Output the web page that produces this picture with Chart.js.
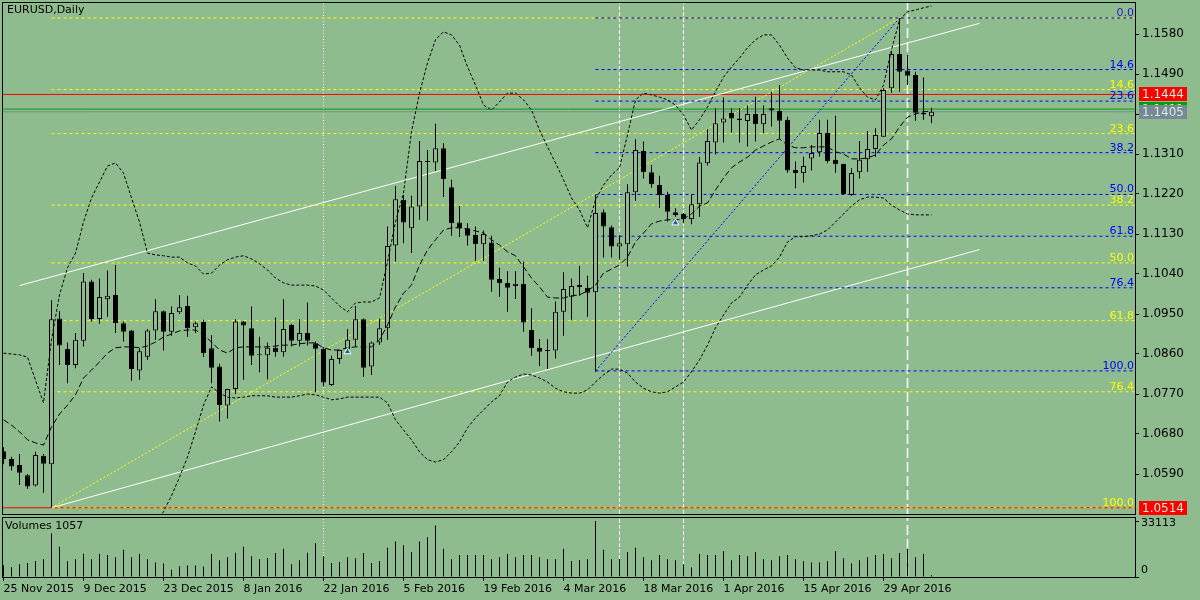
<!DOCTYPE html>
<html>
<head>
<meta charset="utf-8">
<script src="https://cdn.jsdelivr.net/npm/chart.js@4.4.1/dist/chart.umd.min.js"></script>
<style>
  html, body { margin: 0; padding: 0; background: #8fbc8f; }
  #wrap { position: relative; width: 1200px; height: 600px; overflow: hidden; }
  canvas { position: absolute; left: 0; }
  #main { top: 0; }
  #vol { top: 516px; }
</style>
</head>
<body>
<div id="wrap">
  <canvas id="main" width="1200" height="516"></canvas>
  <canvas id="vol" width="1200" height="84"></canvas>
</div>
<script>
// EURUSD daily bars, 25 Nov 2015 .. 9 May 2016
const open = [
  1.0641, 1.0624, 1.0610, 1.0587, 1.0564, 1.0631, 1.0612, 1.0940, 1.0871, 1.0835,
  1.0890, 1.1023, 1.0939, 1.0983, 1.0993, 1.0929, 1.0913, 1.0823, 1.0854, 1.0913,
  1.0956, 1.0910, 1.0954, 1.0968, 1.0920, 1.0932, 1.0873, 1.0832, 1.0744, 1.0781,
  1.0933, 1.0918, 1.0857, 1.0857, 1.0874, 1.0864, 1.0925, 1.0890, 1.0907, 1.0884,
  1.0872, 1.0790, 1.0849, 1.0871, 1.0892, 1.0938, 1.0832, 1.0886, 1.0918, 1.1104,
  1.1207, 1.1143, 1.1192, 1.1293, 1.1291, 1.1323, 1.1235, 1.1156, 1.1143, 1.1128,
  1.1107, 1.1111, 1.1029, 1.1020, 1.1013, 1.1018, 1.0914, 1.0874, 1.0868, 1.0868,
  1.0955, 1.0989, 1.1015, 1.1009, 1.0999, 1.1179, 1.1145, 1.1102, 1.1107, 1.1224,
  1.1317, 1.1269, 1.1240, 1.1218, 1.1179, 1.1175, 1.1164, 1.1197, 1.1289, 1.1336,
  1.1381, 1.1402, 1.1390, 1.1384, 1.1400, 1.1377, 1.1413, 1.1407, 1.1387, 1.1274,
  1.1267, 1.1300, 1.1314, 1.1357, 1.1297, 1.1288, 1.1218, 1.1269, 1.1298, 1.1321,
  1.1349, 1.1458, 1.1535, 1.1498, 1.1488, 1.1402, 1.1395
];
const high = [
  1.0650, 1.0629, 1.0635, 1.0590, 1.0640, 1.0635, 1.0981, 1.0957, 1.0886, 1.0907,
  1.1042, 1.1027, 1.1030, 1.1048, 1.1060, 1.0933, 1.0914, 1.0873, 1.0916, 1.0983,
  1.0958, 1.0967, 1.0993, 1.0991, 1.0933, 1.0937, 1.0903, 1.0838, 1.0782, 1.0938,
  1.0934, 1.0967, 1.0899, 1.0886, 1.0942, 1.0983, 1.0928, 1.0938, 1.0976, 1.0888,
  1.0875, 1.0856, 1.0869, 1.0916, 1.0968, 1.0940, 1.0888, 1.0940, 1.1147, 1.1238,
  1.1218, 1.1216, 1.1339, 1.1319, 1.1378, 1.1334, 1.1252, 1.1193, 1.1154, 1.1147,
  1.1138, 1.1126, 1.1054, 1.1047, 1.1047, 1.1068, 1.0963, 1.0894, 1.0893, 1.0978,
  1.1044, 1.1030, 1.1058, 1.1036, 1.1218, 1.1185, 1.1149, 1.1128, 1.1242, 1.1343,
  1.1338, 1.1285, 1.1261, 1.1225, 1.1188, 1.1177, 1.1219, 1.1303, 1.1366, 1.1413,
  1.1437, 1.1413, 1.1413, 1.1419, 1.1439, 1.1419, 1.1450, 1.1465, 1.1394, 1.1293,
  1.1304, 1.1330, 1.1387, 1.1387, 1.1396, 1.1288, 1.1278, 1.1339, 1.1362, 1.1368,
  1.1458, 1.1540, 1.1615, 1.1533, 1.1495, 1.1482, 1.1414
];
const low = [
  1.0612, 1.0598, 1.0565, 1.0556, 1.0562, 1.0548, 1.0514, 1.0835, 1.0794, 1.0828,
  1.0877, 1.0933, 1.0928, 1.0944, 1.0907, 1.0888, 1.0800, 1.0802, 1.0847, 1.0892,
  1.0868, 1.0901, 1.0950, 1.0898, 1.0907, 1.0853, 1.0794, 1.0708, 1.0715, 1.0770,
  1.0802, 1.0835, 1.0819, 1.0803, 1.0854, 1.0854, 1.0877, 1.0877, 1.0879, 1.0774,
  1.0787, 1.0788, 1.0838, 1.0868, 1.0877, 1.0809, 1.0813, 1.0880, 1.0892, 1.1068,
  1.1109, 1.1087, 1.1162, 1.1160, 1.1272, 1.1213, 1.1126, 1.1123, 1.1104, 1.1070,
  1.1070, 1.1000, 1.0989, 1.0955, 1.0984, 1.0910, 1.0856, 1.0833, 1.0826, 1.0850,
  1.0901, 1.0937, 1.0991, 1.0944, 1.0820, 1.1077, 1.1077, 1.1072, 1.1057, 1.1205,
  1.1255, 1.1234, 1.1189, 1.1158, 1.1169, 1.1154, 1.1152, 1.1168, 1.1284, 1.1309,
  1.1336, 1.1358, 1.1336, 1.1327, 1.1338, 1.1357, 1.1372, 1.1344, 1.1267, 1.1233,
  1.1246, 1.1273, 1.1304, 1.1289, 1.1268, 1.1218, 1.1216, 1.1255, 1.1270, 1.1304,
  1.1348, 1.1448, 1.1450, 1.1465, 1.1385, 1.1387, 1.1379
];
const close = [
  1.0623, 1.0607, 1.0593, 1.0562, 1.0633, 1.0613, 1.0938, 1.0879, 1.0835, 1.0892,
  1.1023, 1.0939, 1.0988, 1.0991, 1.0929, 1.0910, 1.0826, 1.0866, 1.0913, 1.0956,
  1.0910, 1.0952, 1.0965, 1.0918, 1.0929, 1.0862, 1.0829, 1.0745, 1.0781, 1.0933,
  1.0924, 1.0856, 1.0858, 1.0874, 1.0864, 1.0916, 1.0890, 1.0907, 1.0890, 1.0872,
  1.0796, 1.0849, 1.0869, 1.0892, 1.0938, 1.0829, 1.0886, 1.0918, 1.1103, 1.1208,
  1.1156, 1.1192, 1.1294, 1.1292, 1.1323, 1.1254, 1.1154, 1.1143, 1.1126, 1.1107,
  1.1130, 1.1027, 1.1019, 1.1009, 1.1018, 1.0931, 1.0873, 1.0865, 1.0867, 1.0955,
  1.1006, 1.1013, 1.1010, 1.0998, 1.1177, 1.1147, 1.1102, 1.1109, 1.1224, 1.1319,
  1.1269, 1.1242, 1.1218, 1.1180, 1.1173, 1.1164, 1.1197, 1.1291, 1.1339, 1.1379,
  1.1390, 1.1390, 1.1386, 1.1400, 1.1377, 1.1400, 1.1408, 1.1385, 1.1273, 1.1267,
  1.1283, 1.1312, 1.1357, 1.1294, 1.1287, 1.1220, 1.1267, 1.1297, 1.1321, 1.1353,
  1.1454, 1.1535, 1.1495, 1.1486, 1.1403, 1.1399, 1.1405
];
const volume = [
  7000, 5760, 7610, 8230, 9460, 10490, 25920, 17900, 9260, 10490,
  13780, 10490, 13580, 12960, 11730, 16050, 11730, 13580, 10490, 8640,
  8020, 4320, 6380, 6790, 6790, 6170, 13580, 9870, 11730, 14400,
  17900, 12340, 10700, 11310, 14190, 16660, 7610, 9870, 14400, 19950,
  12340, 8230, 8850, 11730, 11110, 14190, 8230, 9460, 17280, 20980,
  18720, 14810, 20980, 23450, 30440, 16660, 10490, 12960, 12960, 12960,
  12960, 10490, 11730, 13580, 11730, 12960, 12960, 11730, 10700, 10700,
  16660, 9460, 10080, 10490, 33113, 16050, 10490, 10700, 14810, 17280,
  11730, 9870, 12960, 10490, 9870, 7610, 5550, 13580, 12960, 12960,
  15430, 9870, 12960, 12340, 14810, 10490, 9870, 12340, 12960, 10490,
  9260, 8640, 8640, 9260, 15430, 11110, 8020, 9870, 11730, 12960,
  13580, 11110, 14190, 16660, 11730, 13580, 1057
];

// Bollinger bands as drawn
const bbUpper = [
  1.0862, 1.0860, 1.0858, 1.0853, 1.0801, 1.0750, 1.0892, 1.0993, 1.1054, 1.1087,
  1.1157, 1.1211, 1.1247, 1.1283, 1.1290, 1.1267, 1.1211, 1.1157, 1.1087, 1.1083,
  1.1081, 1.1078, 1.1078, 1.1065, 1.1058, 1.1040, 1.1042, 1.1060, 1.1072, 1.1078,
  1.1081, 1.1074, 1.1063, 1.1049, 1.1031, 1.1020, 1.1015, 1.1015, 1.1015, 1.1013,
  1.1004, 1.0986, 1.0968, 1.0955, 1.0975, 1.0977, 1.0977, 1.0986, 1.1067, 1.1157,
  1.1222, 1.1360, 1.1447, 1.1515, 1.1567, 1.1585, 1.1578, 1.1555, 1.1506, 1.1465,
  1.1420, 1.1409, 1.1427, 1.1447, 1.1447, 1.1432, 1.1409, 1.1364, 1.1326, 1.1290,
  1.1252, 1.1211, 1.1184, 1.1144, 1.1207, 1.1240, 1.1263, 1.1279, 1.1353, 1.1432,
  1.1447, 1.1443, 1.1438, 1.1432, 1.1420, 1.1398, 1.1364, 1.1387, 1.1416, 1.1450,
  1.1483, 1.1506, 1.1526, 1.1549, 1.1567, 1.1578, 1.1578, 1.1555, 1.1526, 1.1504,
  1.1499, 1.1499, 1.1499, 1.1495, 1.1495, 1.1495, 1.1488, 1.1459, 1.1438, 1.1432,
  1.1465, 1.1544, 1.1612, 1.1630, 1.1634, 1.1639, 1.1643
];
const bbMiddle = [
  1.0712, 1.0700, 1.0685, 1.0667, 1.0660, 1.0655, 1.0696, 1.0725, 1.0745, 1.0768,
  1.0806, 1.0824, 1.0842, 1.0862, 1.0874, 1.0876, 1.0876, 1.0874, 1.0878, 1.0887,
  1.0898, 1.0905, 1.0912, 1.0914, 1.0914, 1.0903, 1.0887, 1.0869, 1.0862, 1.0874,
  1.0876, 1.0876, 1.0876, 1.0876, 1.0878, 1.0880, 1.0880, 1.0883, 1.0885, 1.0885,
  1.0874, 1.0869, 1.0869, 1.0874, 1.0876, 1.0876, 1.0876, 1.0892, 1.0925, 1.0966,
  1.0997, 1.1015, 1.1060, 1.1094, 1.1117, 1.1139, 1.1144, 1.1144, 1.1141, 1.1137,
  1.1132, 1.1117, 1.1105, 1.1090, 1.1081, 1.1056, 1.1031, 1.1011, 1.0988, 1.0986,
  1.0986, 1.0991, 1.0993, 1.1002, 1.1015, 1.1042, 1.1051, 1.1060, 1.1078, 1.1112,
  1.1132, 1.1153, 1.1159, 1.1162, 1.1162, 1.1164, 1.1175, 1.1193, 1.1200, 1.1229,
  1.1256, 1.1279, 1.1292, 1.1303, 1.1319, 1.1328, 1.1337, 1.1344, 1.1330, 1.1324,
  1.1324, 1.1326, 1.1326, 1.1326, 1.1315, 1.1310, 1.1299, 1.1299, 1.1301, 1.1308,
  1.1330, 1.1344, 1.1371, 1.1393, 1.1400, 1.1405, 1.1407
];
const bbLower = [
  1.0475, 1.0469, 1.0464, 1.0457, 1.0453, 1.0448, 1.0397, 1.0352, 1.0329, 1.0307,
  1.0284, 1.0280, 1.0284, 1.0295, 1.0311, 1.0329, 1.0363, 1.0408, 1.0453, 1.0482,
  1.0505, 1.0541, 1.0583, 1.0628, 1.0685, 1.0745, 1.0786, 1.0772, 1.0763, 1.0761,
  1.0763, 1.0766, 1.0766, 1.0766, 1.0763, 1.0763, 1.0763, 1.0766, 1.0770, 1.0768,
  1.0763, 1.0757, 1.0759, 1.0763, 1.0763, 1.0763, 1.0763, 1.0763, 1.0750, 1.0712,
  1.0689, 1.0667, 1.0640, 1.0622, 1.0617, 1.0622, 1.0640, 1.0662, 1.0694, 1.0716,
  1.0734, 1.0752, 1.0766, 1.0797, 1.0808, 1.0815, 1.0813, 1.0806, 1.0797, 1.0783,
  1.0775, 1.0772, 1.0772, 1.0779, 1.0797, 1.0813, 1.0826, 1.0826, 1.0817, 1.0797,
  1.0783, 1.0775, 1.0772, 1.0775, 1.0786, 1.0797, 1.0820, 1.0847, 1.0880, 1.0919,
  1.0948, 1.0975, 1.0988, 1.1015, 1.1038, 1.1049, 1.1058, 1.1078, 1.1112, 1.1124,
  1.1124, 1.1126, 1.1130, 1.1139, 1.1157, 1.1175, 1.1193, 1.1207, 1.1213, 1.1213,
  1.1211, 1.1195, 1.1184, 1.1175, 1.1173, 1.1173, 1.1173
];

// axis labels
const dateTickIdx = [0, 10, 20, 30, 40, 50, 60, 70, 80, 90, 100, 110];
const dateLabels = ['25 Nov 2015', '9 Dec 2015', '23 Dec 2015', '8 Jan 2016', '22 Jan 2016', '5 Feb 2016',
  '19 Feb 2016', '4 Mar 2016', '18 Mar 2016', '1 Apr 2016', '15 Apr 2016', '29 Apr 2016'];
const priceTicks = [1.0590, 1.0680, 1.0770, 1.0860, 1.0950, 1.1040, 1.1130, 1.1220, 1.1310, 1.1400, 1.1490, 1.1580];
const volumeTicks = [0, 33113];

// drawn objects
const fibLabels = ['0.0', '14.6', '23.6', '38.2', '50.0', '61.8', '76.4', '100.0'];
const yellowFib = [1.1616, 1.1455, 1.1356, 1.1195, 1.1065, 1.0935, 1.0775, 1.0514];
const yellowFibFrom = [6, 1.0514];   // bar, price of the 100 anchor
const blueFib = [1.1616, 1.1500, 1.1429, 1.1313, 1.1219, 1.1125, 1.1009, 1.0822];
const blueFibFrom = [74, 1.0822];
const fibTop = [112, 1.1616];
const channelUpper = [[2, 1.1014], [122, 1.1604]];
const channelLower = [[6, 1.0514], [122, 1.1095]];
const hLinePrices = [1.1444, 1.1411, 1.1405, 1.0514];
const vLineIdx = [40, 77, 85, 113];
const arrowIdx = [43, 84];
const arrowPrice = [1.0865, 1.1155];

const BG = '#8fbc8f';
const FONT = '"DejaVu Sans", sans-serif';
const X_MIN = -0.1875, X_MAX = 141.4375;
const Y_MIN = 1.0500, Y_MAX = 1.1652;
const VOL_MAX = 35500;

const bars = close.map((_, i) => i);
const seg = (x0, y0, x1, y1) => [{ x: x0, y: y0 }, { x: x1, y: y1 }];

function line(data, color, dash, width, order) {
  return {
    type: 'line', data: data, borderColor: color, borderWidth: width, borderDash: dash,
    pointRadius: 0, fill: false, tension: 0, order: order
  };
}

// axis boxes keep a fixed size and add no extra padding round the plot
function fixWidth(s) {
  s.width = 65;
  s.paddingTop = 0;
  s.paddingBottom = 0;
}

// ---------- main price panel ----------
const mainSets = [];

// objects behind the candles
vLineIdx.forEach((v, k) => {
  const dash = k === 0 ? [1, 2] : (k === 3 ? [10, 4] : [4, 2]);
  mainSets.push(line(seg(v, Y_MIN, v, Y_MAX), '#ffffff', dash, k === 3 ? 1.5 : 1, 9));
});
const hColors = ['#ff0000', '#00a000', '#778899', '#ff0000'];
hLinePrices.forEach((p, k) => mainSets.push(line(seg(X_MIN, p, X_MAX, p), hColors[k], [], 1, 8)));
yellowFib.forEach(p => mainSets.push(line(seg(yellowFibFrom[0], p, X_MAX, p), '#ffff00', [3, 3], 1, 7)));
blueFib.forEach(p => mainSets.push(line(seg(blueFibFrom[0], p, X_MAX, p), '#0000ff', [3, 3], 1, 6)));
mainSets.push(line(seg(yellowFibFrom[0], yellowFibFrom[1], fibTop[0], fibTop[1]), '#ffff00', [2, 2], 1, 6));
mainSets.push(line(seg(blueFibFrom[0], blueFibFrom[1], fibTop[0], fibTop[1]), '#0000ff', [2, 2], 1, 6));
mainSets.push(line(seg(channelUpper[0][0], channelUpper[0][1], channelUpper[1][0], channelUpper[1][1]), '#ffffff', [], 1, 6));
mainSets.push(line(seg(channelLower[0][0], channelLower[0][1], channelLower[1][0], channelLower[1][1]), '#ffffff', [], 1, 6));

// candles
mainSets.push({
  type: 'bar', data: bars.map(i => ({ x: i, y: [low[i], high[i]] })),
  backgroundColor: '#000000', borderWidth: 0, barThickness: 1, grouped: false, inflateAmount: 0, order: 3
});
mainSets.push({
  type: 'bar', data: bars.map(i => ({ x: i, y: [open[i], close[i]] })),
  backgroundColor: bars.map(i => close[i] >= open[i] ? BG : '#000000'),
  borderColor: '#000000', borderWidth: 1, borderSkipped: false, minBarLength: 1,
  barThickness: 5, grouped: false, inflateAmount: 0, order: 2
});

// indicators
mainSets.push(line(bars.map(i => ({ x: i, y: bbUpper[i] })), '#000000', [3, 2], 1, 1));
mainSets.push(line(bars.map(i => ({ x: i, y: bbLower[i] })), '#000000', [3, 2], 1, 1));
mainSets.push(line(bars.map(i => ({ x: i, y: bbMiddle[i] })), '#000000', [6, 3], 1, 1));
mainSets.push({
  type: 'line', showLine: false, data: arrowIdx.map((v, k) => ({ x: v, y: arrowPrice[k] })),
  pointStyle: 'triangle', pointRadius: 4, backgroundColor: '#1f5fae', borderColor: '#ffffff',
  borderWidth: 1, order: 0
});

const mainDecor = {
  id: 'mainDecor',
  afterDraw(chart) {
    const { ctx, chartArea: a } = chart;
    const y = chart.scales.y;
    ctx.save();
    ctx.strokeStyle = '#000000';
    ctx.lineWidth = 1;
    ctx.strokeRect(a.left + 0.5, a.top + 0.5, a.right - a.left, a.bottom - a.top);

    ctx.font = '11px ' + FONT;
    ctx.fillStyle = '#000000';
    ctx.textAlign = 'left';
    ctx.textBaseline = 'top';
    ctx.fillText('EURUSD,Daily', a.left + 5, a.top + 3);

    ctx.textAlign = 'right';
    ctx.textBaseline = 'alphabetic';
    ctx.fillStyle = '#ffff00';
    yellowFib.forEach((p, k) => ctx.fillText(fibLabels[k], a.right - 1, y.getPixelForValue(p) - 2));
    ctx.fillStyle = '#0000ff';
    blueFib.forEach((p, k) => ctx.fillText(fibLabels[k], a.right - 1, y.getPixelForValue(p) - 2));

    // price tags on the axis
    ctx.font = '12px ' + FONT;
    ctx.textAlign = 'left';
    ctx.textBaseline = 'middle';
    hLinePrices.forEach((p, k) => {
      const py = Math.round(y.getPixelForValue(p));
      ctx.fillStyle = hColors[k];
      ctx.fillRect(a.right + 4, py - 7, 48, 14);
      ctx.fillStyle = '#d4ecd4';
      ctx.fillText(p.toFixed(4), a.right + 7, py + 1);
    });
    ctx.restore();
  }
};

new Chart(document.getElementById('main').getContext('2d'), {
  type: 'bar',
  data: { datasets: mainSets },
  options: {
    responsive: false,
    animation: false,
    devicePixelRatio: 1,
    layout: { autoPadding: false, padding: { left: 2, top: 2, right: 0, bottom: 2 } },
    plugins: { legend: { display: false }, tooltip: { enabled: false } },
    scales: {
      x: { type: 'linear', min: X_MIN, max: X_MAX, offset: false, display: false },
      y: {
        type: 'linear', position: 'right', min: Y_MIN, max: Y_MAX,
        afterBuildTicks: s => { s.ticks = priceTicks.map(v => ({ value: v })); },
        afterFit: fixWidth,
        grid: { drawOnChartArea: false, tickLength: 4, color: '#000000' },
        border: { display: false },
        ticks: { color: '#000000', padding: 3, autoSkip: false, font: { family: FONT, size: 12 }, callback: v => v.toFixed(4) }
      }
    }
  },
  plugins: [mainDecor]
});

// ---------- volume panel ----------
const volSets = [];
vLineIdx.forEach((v, k) => {
  const dash = k === 0 ? [1, 2] : (k === 3 ? [10, 4] : [4, 2]);
  volSets.push(line(seg(v, 0, v, VOL_MAX), '#ffffff', dash, k === 3 ? 1.5 : 1, 5));
});
volSets.push({
  type: 'bar', data: bars.map(i => ({ x: i, y: volume[i] })),
  backgroundColor: '#000000', borderWidth: 0, barThickness: 1, grouped: false, inflateAmount: 0, order: 1
});

const volDecor = {
  id: 'volDecor',
  afterDraw(chart) {
    const { ctx, chartArea: a } = chart;
    const y = chart.scales.y;
    ctx.save();
    ctx.strokeStyle = '#000000';
    ctx.lineWidth = 1;
    ctx.strokeRect(a.left + 0.5, a.top + 0.5, a.right - a.left, a.bottom - a.top);
    ctx.font = '11px ' + FONT;
    ctx.fillStyle = '#000000';
    ctx.textAlign = 'left';
    ctx.textBaseline = 'top';
    ctx.fillText('Volumes ' + volume[volume.length - 1], a.left + 3, a.top + 4);
    ctx.textBaseline = 'middle';
    ctx.fillText(String(volumeTicks[1]), a.right + 6, y.getPixelForValue(volumeTicks[1]) + 2);
    ctx.fillText(String(volumeTicks[0]), a.right + 6, y.getPixelForValue(volumeTicks[0]) - 7);
    ctx.restore();
  }
};

new Chart(document.getElementById('vol').getContext('2d'), {
  type: 'bar',
  data: { datasets: volSets },
  options: {
    responsive: false,
    animation: false,
    devicePixelRatio: 1,
    layout: { autoPadding: false, padding: { left: 2, top: 1, right: 0, bottom: 0 } },
    plugins: { legend: { display: false }, tooltip: { enabled: false } },
    scales: {
      x: {
        type: 'linear', min: X_MIN, max: X_MAX, offset: false,
        afterBuildTicks: s => { s.ticks = dateTickIdx.map(v => ({ value: v })); },
        afterFit: s => { s.height = 23; s.paddingLeft = 0; s.paddingRight = 0; },
        grid: { drawOnChartArea: false, tickLength: 4, color: '#000000', offset: false },
        border: { display: false },
        ticks: {
          align: 'start', maxRotation: 0, autoSkip: false, padding: 2, color: '#000000',
          font: { family: FONT, size: 11 }, callback: (v, k) => dateLabels[k]
        }
      },
      y: {
        type: 'linear', position: 'right', min: 0, max: VOL_MAX,
        afterBuildTicks: s => { s.ticks = volumeTicks.map(v => ({ value: v })); },
        afterFit: fixWidth,
        grid: { drawOnChartArea: false, tickLength: 4, color: '#000000' },
        border: { display: false },
        ticks: { display: false }
      }
    }
  },
  plugins: [volDecor]
});
</script>
</body>
</html>
